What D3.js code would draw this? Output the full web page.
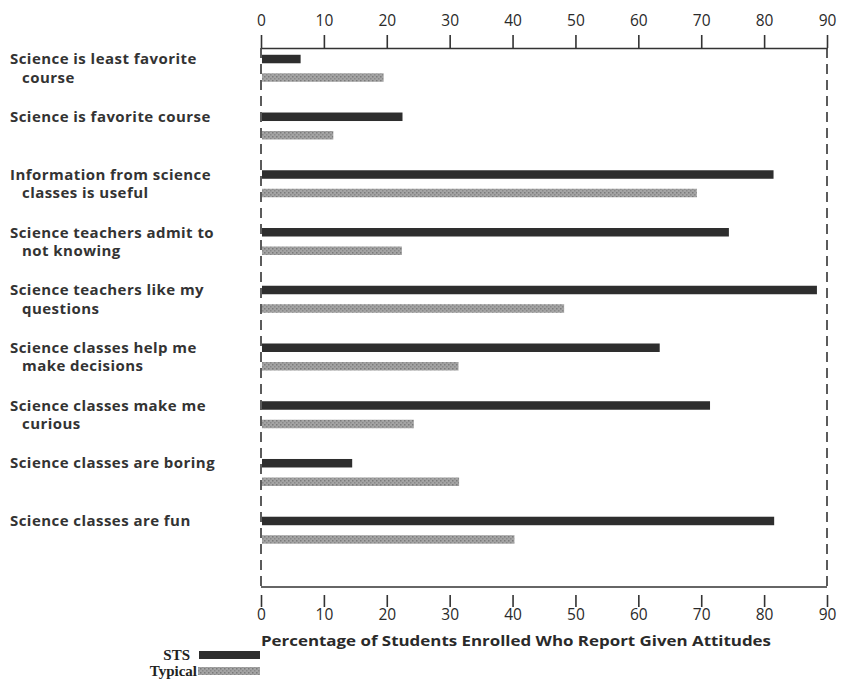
<!DOCTYPE html>
<html>
<head>
<meta charset="utf-8">
<script src="https://cdn.jsdelivr.net/npm/d3@7"></script>
<style>
  body { margin: 0; background: #fff; }
  .tick text { font-family: "Open Sans", sans-serif; font-size: 15.5px; fill: #2a2a2a; }
  .tick line, .domain { stroke: #333; stroke-width: 1.6; }
</style>
</head>
<body>
<script>
// chart data
var attitudes = [
  ["Science is least favorite", "course"],
  ["Science is favorite course"],
  ["Information from science", "classes is useful"],
  ["Science teachers admit to", "not knowing"],
  ["Science teachers like my", "questions"],
  ["Science classes help me", "make decisions"],
  ["Science classes make me", "curious"],
  ["Science classes are boring"],
  ["Science classes are fun"]
];
var stsValues = [6.3, 22.5, 81.5, 74.4, 88.4, 63.4, 71.4, 14.5, 81.6];
var typicalValues = [19.5, 11.5, 69.3, 22.4, 48.2, 31.4, 24.3, 31.5, 40.3];
var tickValues = [0, 10, 20, 30, 40, 50, 60, 70, 80, 90];
var seriesNames = ["STS", "Typical"];
var axisTitle = "Percentage of Students Enrolled Who Report Given Attitudes";

var width = 848, height = 681;
var plot = {left: 261, right: 827, top: 48, bottom: 587};
var barH = 8.5, barOff = 9.25;

var svg = d3.select("body").append("svg")
  .attr("width", width)
  .attr("height", height);

// stipple pattern for the "Typical" bars
var defs = svg.append("defs");
var pat = defs.append("pattern")
  .attr("id", "stipple")
  .attr("width", 4).attr("height", 4)
  .attr("patternUnits", "userSpaceOnUse");
pat.append("rect").attr("width", 4).attr("height", 4).attr("fill", "#a4a4a4");
pat.append("rect").attr("width", 1.5).attr("height", 1.5).attr("fill", "#7a7a7a");
pat.append("rect").attr("x", 2).attr("y", 2).attr("width", 1.5).attr("height", 1.5).attr("fill", "#888");

// scales
var x = d3.scaleLinear().domain([0, 90]).range([plot.left, plot.right]);
var y = d3.scaleBand()
  .domain(d3.range(attitudes.length))
  .range([39.4, 559.1]);

// top axis
svg.append("g")
  .attr("transform", "translate(0," + plot.top + ")")
  .call(d3.axisTop(x).tickValues(tickValues).tickSize(13).tickSizeOuter(0).tickPadding(9));

// bottom axis: plain line, with ticks hanging below it
svg.append("line")
  .attr("x1", plot.left).attr("x2", plot.right)
  .attr("y1", plot.bottom).attr("y2", plot.bottom)
  .attr("stroke", "#333").attr("stroke-width", 1.6);
var bottomAxis = svg.append("g")
  .attr("transform", "translate(0," + (plot.bottom + 8) + ")")
  .call(d3.axisBottom(x).tickValues(tickValues).tickSize(12).tickPadding(2));
bottomAxis.select(".domain").remove();

// dashed frame sides
svg.selectAll("line.side")
  .data([0, 90]).enter()
  .append("line")
  .attr("class", "side")
  .attr("x1", d => x(d)).attr("x2", d => x(d))
  .attr("y1", plot.top).attr("y2", plot.bottom)
  .attr("stroke", "#333").attr("stroke-width", 1.6)
  .attr("stroke-dasharray", "10,6");

// bars
var groups = svg.selectAll("g.group")
  .data(attitudes.map((a, i) => ({label: a, sts: stsValues[i], typ: typicalValues[i], i: i})))
  .enter().append("g")
  .attr("class", "group");

groups.append("rect")
  .attr("x", x(0) + 1)
  .attr("y", d => y(d.i) + y.bandwidth() / 2 - barOff - barH / 2)
  .attr("width", d => x(d.sts) - x(0) - 1)
  .attr("height", barH)
  .attr("fill", "#2e2e2e");

groups.append("rect")
  .attr("x", x(0) + 1)
  .attr("y", d => y(d.i) + y.bandwidth() / 2 + barOff - barH / 2)
  .attr("width", d => x(d.typ) - x(0) - 1)
  .attr("height", barH)
  .attr("fill", "url(#stipple)");

// category labels (first line by the STS bar, second line by the Typical bar)
groups.each(function(d) {
  var g = d3.select(this);
  d.label.forEach(function(line, k) {
    g.append("text")
      .attr("x", k == 0 ? 10 : 22)
      .attr("y", y(d.i) + y.bandwidth() / 2 + (k == 0 ? -barOff : barOff))
      .attr("dy", "0.35em")
      .style("font-family", "Open Sans, sans-serif")
      .style("font-weight", "bold")
      .style("font-size", "15px")
      .style("letter-spacing", "0.45px")
      .style("fill", "#333")
      .text(line);
  });
});

// axis title
svg.append("text")
  .attr("x", plot.left)
  .attr("y", 646)
  .style("font-family", "Open Sans, sans-serif")
  .style("font-weight", "bold")
  .style("font-size", "15px")
  .style("fill", "#2a2a2a")
  .attr("textLength", 510)
  .attr("lengthAdjust", "spacingAndGlyphs")
  .text(axisTitle);

// legend
var legend = svg.append("g").attr("class", "legend");
seriesNames.forEach(function(name, k) {
  legend.append("text")
    .attr("x", k == 0 ? 190 : 197)
    .attr("y", 660 + k * 16)
    .attr("text-anchor", "end")
    .style("font-family", "Liberation Serif, serif")
    .style("font-weight", "bold")
    .style("font-size", "15px")
    .style("fill", "#222")
    .text(name);
  legend.append("rect")
    .attr("x", k == 0 ? 199 : 198)
    .attr("y", 651 + k * 16)
    .attr("width", k == 0 ? 61 : 62)
    .attr("height", 8)
    .attr("fill", k == 0 ? "#2e2e2e" : "url(#stipple)");
});
</script>
</body>
</html>
